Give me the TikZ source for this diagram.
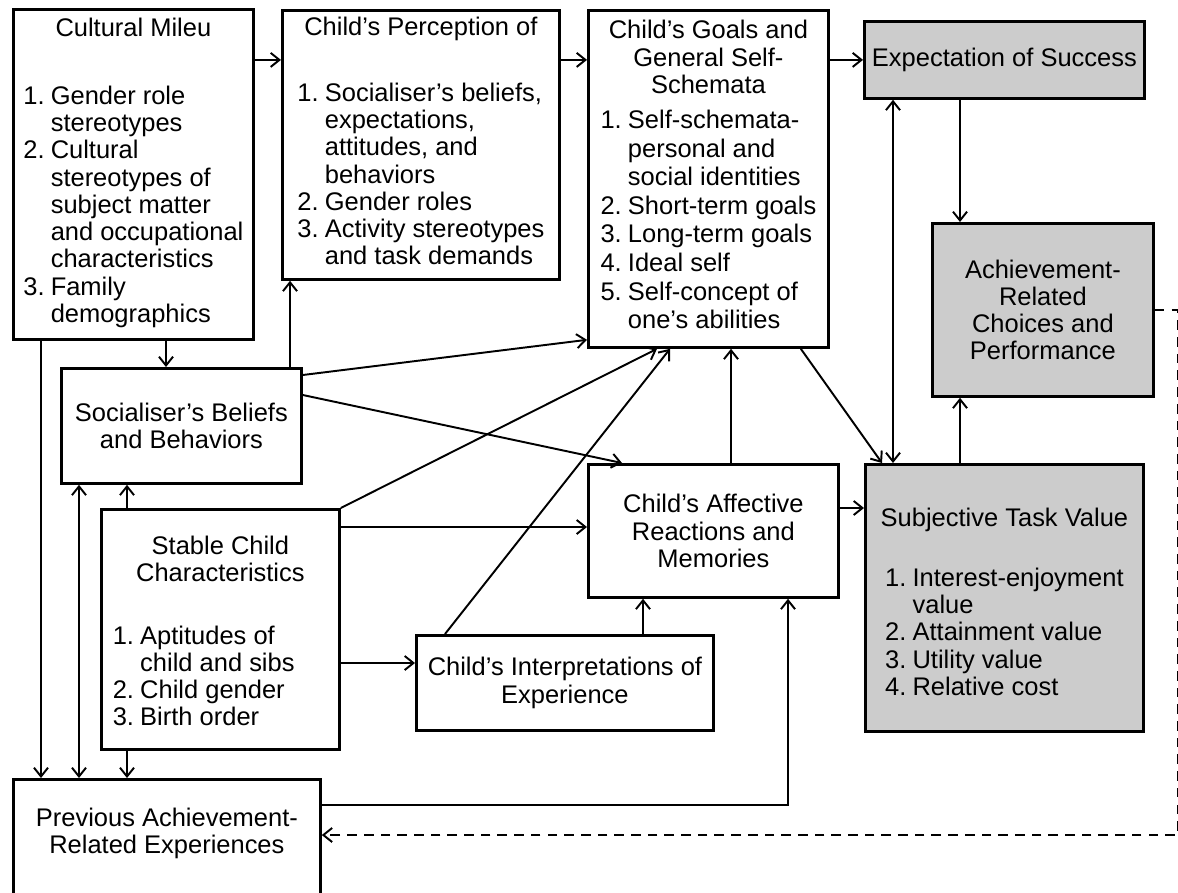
\documentclass[tikz,border=0pt]{standalone}
\usepackage{fontspec}
\setmainfont{Liberation Sans}
\usetikzlibrary{arrows.meta,calc}

\newcommand{\itemlist}[1]{\begin{tabular}[t]{@{}l@{\hspace{3.5pt}}l@{}}#1\end{tabular}}

\begin{document}
\begin{tikzpicture}[
		box/.style={draw, line width=1.6pt, anchor=north west, inner sep=0pt, align=center,
			font=\fontsize{14.5}{15.5}\selectfont},
		shaded/.style={box, fill=black!20},
		arr/.style={line width=1.1pt, -{Straight Barb[length=5pt,width=8pt]}},
		dblarr/.style={line width=1.1pt, {Straight Barb[length=5pt,width=8pt]}-{Straight Barb[length=5pt,width=8pt]}},
		dasharr/.style={arr, dash pattern=on 5.5pt off 4pt}]
				\useasboundingbox (0,0) rectangle (23.56,-17.84);
				
				% Cultural milieu
				\node[box, minimum width=4.8cm, minimum height=6.6cm] (mileu) at (0.24,-0.16)
				{Cultural Mileu\\[23pt]
					\itemlist{1. & Gender role\\ & stereotypes\\
						2. & Cultural\\ & stereotypes of\\ & subject matter\\ & and occupational\\ & characteristics\\
						3. & Family\\ & demographics}};
				
				% Child's perception
				\node[box, minimum width=5.54cm, minimum height=5.38cm] (percep) at (5.62,-0.18)
				{Child’s Perception of\\[22pt]
					\itemlist{1. & Socialiser’s beliefs,\\ & expectations,\\ & attitudes, and\\ & behaviors\\
						2. & Gender roles\\
						3. & Activity stereotypes\\ & and task demands}};
				
				% Goals and self-schemata
				\node[box, minimum width=4.8cm, minimum height=6.74cm] (goals) at (11.74,-0.18)
				{Child’s Goals and\\ General Self-\\ Schemata\\[4.5pt]
					\renewcommand{\arraystretch}{1.05}%
					\itemlist{1. & Self-schemata-\\ & personal and\\ & social identities\\
						2. & Short-term goals\\
						3. & Long-term goals\\
						4. & Ideal self\\
						5. & Self-concept of\\ & one’s abilities}};
				
				% Expectation and choices
				\node[shaded, minimum width=5.6cm, minimum height=1.54cm] (expect) at (17.26,-0.4) {Expectation of Success};
				\node[shaded, minimum width=4.42cm, minimum height=3.46cm] (achieve) at (18.62,-4.44)
				{Achievement-\\ Related\\ Choices and\\ Performance};
				
				% Socialiser
				\node[box, minimum width=4.8cm, minimum height=2.3cm] (social) at (1.2,-7.34)
				{Socialiser’s Beliefs\\ and Behaviors};
				
				% Stable child characteristics
				\node[box, minimum width=4.76cm, minimum height=4.8cm] (stable) at (2.0,-10.16)
				{\rule{0pt}{17pt}Stable Child\\ Characteristics\\[20pt]
					\itemlist{1. & Aptitudes of\\ & child and sibs\\
						2. & Child gender\\
						3. & Birth order}\hspace*{19pt}};
				
				% Affective reactions and interpretations
				\node[box, minimum width=5.0cm, minimum height=2.66cm] (affect) at (11.74,-9.26)
				{Child’s Affective\\ Reactions and\\ Memories};
				\node[box, minimum width=5.94cm, minimum height=1.9cm] (interp) at (8.3,-12.68)
				{Child’s Interpretations of\\ Experience};
				
				% Subjective task value
				\node[shaded, minimum width=5.56cm, minimum height=5.34cm] (subj) at (17.28,-9.26)
				{\rule{0pt}{19.5pt}Subjective Task Value\\[18.5pt]
					\itemlist{1. & Interest-enjoyment\\ & value\\
						2. & Attainment value\\
						3. & Utility value\\
						4. & Relative cost}};
				
				% Previous experiences
				\node[box, minimum width=6.14cm, minimum height=2.48cm] (prev) at (0.24,-15.56)
				{Previous Achievement-\\ Related Experiences\rule[-12pt]{0pt}{0pt}};
				
				% Points on the box edges
				\coordinate (s1) at ($(social.north west)+(2.12,0)$);
				\coordinate (p1) at ($(percep.south west)+(0.18,0)$);
				\coordinate (m2) at ($(prev.north west)+(0.58,0)$);
				\coordinate (m3) at ($(prev.north west)+(1.34,0)$);
				\coordinate (m4) at ($(stable.south west)+(0.54,0)$);
				\coordinate (a1) at ($(affect.north west)+(2.88,0)$);
				\coordinate (a2) at ($(affect.north west)+(0,-1.28)$);
				\coordinate (a3) at ($(affect.south west)+(4.02,0)$);
				\coordinate (i1) at ($(interp.north west)+(0,-0.58)$);
				\coordinate (i2) at ($(interp.north west)+(4.56,0)$);
				\coordinate (p2) at ($(prev.north east)+(0,-0.54)$);
				\coordinate (s3) at ($(subj.north west)+(0,-0.9)$);
				\coordinate (c1) at ($(subj.north west)+(0.58,0)$);
				\coordinate (c2) at ($(achieve.north west)+(0.58,0)$);
				\coordinate (rc) at (23.555,-16.7);
				
				% Top row
				\draw[arr] (mileu.east |- expect.west) -- (percep.west |- expect.west);
				\draw[arr] (percep.east |- expect.west) -- (goals.west |- expect.west);
				\draw[arr] (goals.east |- expect.west) -- (expect.west);
				\draw[arr] (c2 |- expect.south) -- (c2);
				\draw[dblarr] (c1 |- expect.south) -- (c1);
				\draw[arr] (c2 |- subj.north) -- (c2 |- achieve.south);
				\draw[arr] ($(goals.south east)+(-0.58,0)$) -- ($(subj.north west)+(0.36,0)$);
				
				% Left column
				\draw[arr] (mileu.south -| s1) -- (s1);
				\draw[arr] (mileu.south -| m2) -- (m2);
				\draw[arr] (social.north -| p1) -- (p1);
				\draw[dblarr] (social.south -| m3) -- (m3);
				\draw[arr] (stable.north -| m4) -- (social.south -| m4);
				\draw[arr] (m4) -- (prev.north -| m4);
				
				% Middle
				\draw[arr] ($(social.north east)+(0,-0.16)$) -- ($(goals.south west)+(0,0.18)$);
				\draw[arr] ($(social.north east)+(0,-0.56)$) -- ($(affect.north west)+(0.7,0)$);
				\draw[arr] (stable.north east) -- ($(goals.south west)+(1.4,0)$);
				\draw[arr] ($(interp.north west)+(0.6,0)$) -- ($(goals.south west)+(1.66,0)$);
				\draw[arr] (a1) -- (goals.south -| a1);
				\draw[arr] (stable.east |- a2) -- (a2);
				\draw[arr] (stable.east |- i1) -- (i1);
				\draw[arr] (i2) -- (affect.south -| i2);
				\draw[arr] (p2) -| (a3);
				\draw[arr] (affect.east |- s3) -- (s3);
				
				% Feedback
				\draw[dasharr] (achieve.east) -| (rc) -- (prev.east |- rc);
			\end{tikzpicture}
\end{document}
